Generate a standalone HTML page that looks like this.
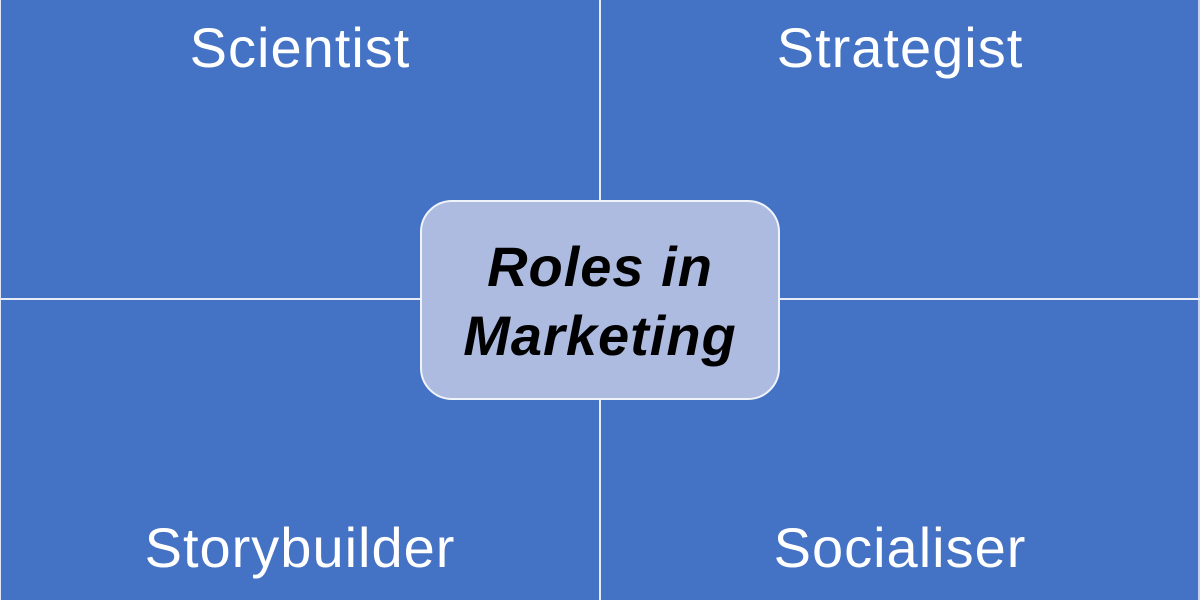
<!DOCTYPE html>
<html><head><meta charset="utf-8"><style>
html,body{margin:0;padding:0;width:1200px;height:600px;overflow:hidden;background:#4472C4;}
.wrap{position:relative;width:1200px;height:600px;background:#4472C4;font-family:"Liberation Sans","DejaVu Sans",sans-serif;}
.vl{position:absolute;left:599px;top:0;width:2px;height:600px;background:#e8ecf6;}
.hl{position:absolute;left:0;top:298px;width:1200px;height:2px;background:#e8ecf6;}
.edgeL{position:absolute;left:0;top:0;width:1px;height:600px;background:#dfe6f4;}
.edgeR{position:absolute;right:0;top:0;width:2px;height:600px;background:#c9d5ee;}
.lbl{position:absolute;color:#fff;font-size:56px;letter-spacing:1px;line-height:1;text-align:center;width:600px;}
.box{position:absolute;left:420px;top:200px;width:356px;height:196px;border:2px solid #f0f3fa;border-radius:32px;background:#AEBBE0;}
.ctr{position:absolute;left:420px;top:232px;width:360px;text-align:center;font-size:56px;letter-spacing:1px;font-weight:bold;font-style:italic;line-height:69px;color:#000;}
</style></head><body><div class="wrap">
<div class="edgeL"></div><div class="edgeR"></div>
<div class="vl"></div><div class="hl"></div>
<div class="lbl" style="left:0;top:20px;">Scientist</div>
<div class="lbl" style="left:600px;top:20px;">Strategist</div>
<div class="lbl" style="left:0;top:520px;">Storybuilder</div>
<div class="lbl" style="left:600px;top:520px;">Socialiser</div>
<div class="box"></div>
<div class="ctr">Roles in<br>Marketing</div>
</div></body></html>
